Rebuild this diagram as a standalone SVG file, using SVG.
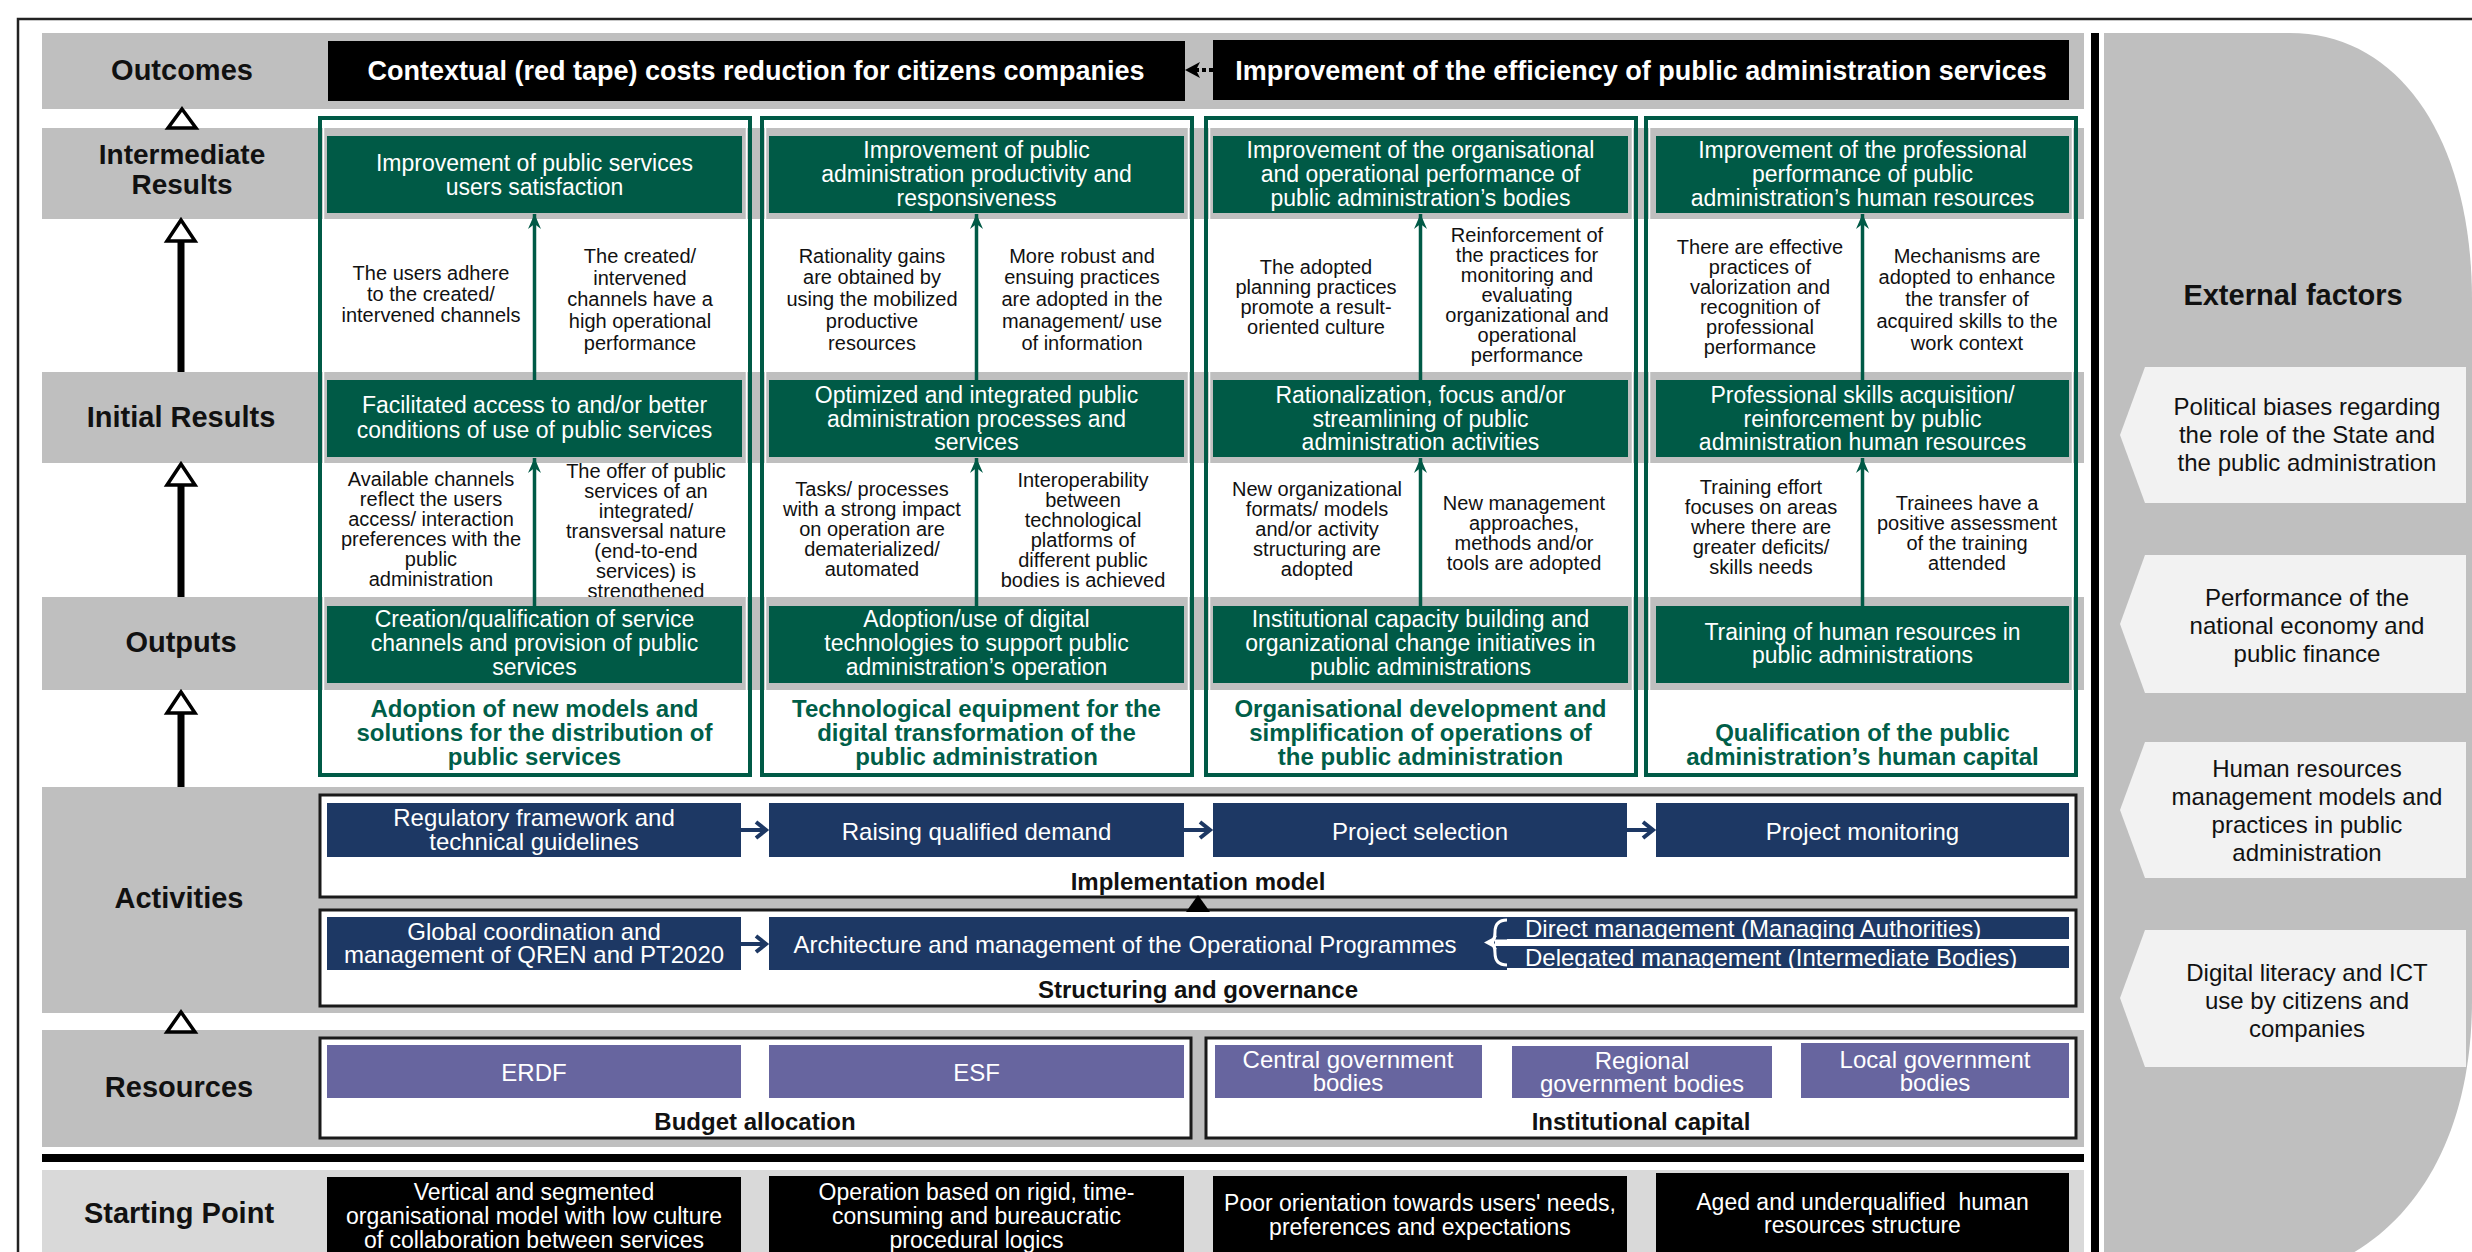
<svg xmlns="http://www.w3.org/2000/svg" width="2472" height="1252" viewBox="0 0 2472 1252">
  <style>
    text { font-family: 'Liberation Sans', Arial, sans-serif; text-anchor: middle; }
    .band { fill: #bfbfbf; }
    .band2 { fill: #d9d9d9; }
    .lbl { font-size: 29px; font-weight: bold; fill: #111; }
    .gbox { fill: #005a46; }
    .gt { font-size: 23px; fill: #fff; }
    .mt { font-size: 20px; fill: #111; }
    .tt { font-size: 24px; font-weight: bold; fill: #005e48; }
    .col { fill: none; stroke: #005a46; stroke-width: 4; }
    .colin { fill: none; stroke: #fff; stroke-width: 1.5; }
    .nbox { fill: #1d3864; }
    .nt { font-size: 24px; fill: #fff; }
    .pbox { fill: #67659f; }
    .frame { fill: #fff; stroke: #1a1a1a; stroke-width: 3; }
    .ft { font-size: 24px; font-weight: bold; fill: #111; }
    .bbox { fill: #000; }
    .ot { font-size: 27px; font-weight: bold; fill: #fff; }
    .st { font-size: 23px; fill: #fff; }
    .ext { fill: #f2f2f2; }
    .et { font-size: 24px; fill: #111; }
    .garrow { stroke: #005a46; stroke-width: 3.5; fill: none; marker-end: url(#gHead); }
    .narrow { stroke: #1d3864; stroke-width: 4; fill: none; }
    .axis { fill: #000; }
    .tri { fill: #fff; stroke: #000; stroke-width: 3.5; stroke-linejoin: miter; }
  </style>
  <defs>
    <marker id="gHead" viewBox="-16 -8 18 16" markerWidth="18" markerHeight="16" refX="0" refY="0" orient="auto" markerUnits="userSpaceOnUse">
      <path d="M0,0 L-15,-6.5 L-10,0 L-15,6.5 Z" fill="#005a46"/>
    </marker>
  </defs>

  <rect width="2472" height="1252" fill="#fff"/>

  <!-- outer frame -->
  <path d="M18,1252 V19 H2472" fill="none" stroke="#222" stroke-width="2.5"/>

  <!-- external factors panel -->
  <path d="M2104,33 H2290 C2400,33 2472,140 2472,300 V1000 C2472,1130 2420,1220 2340,1260 H2104 Z" fill="#bfbfbf"/>
  <rect x="2091" y="33" width="8" height="1219" fill="#000"/>

  <!-- assumption texts between result levels -->
  <g id="assumptions">
    <text class="mt"><tspan x="431" y="280">The users adhere</tspan><tspan x="431" y="301">to the created/</tspan><tspan x="431" y="322">intervened channels</tspan></text>
    <text class="mt"><tspan x="640" y="263">The created/</tspan><tspan x="640" y="285">intervened</tspan><tspan x="640" y="306">channels have a</tspan><tspan x="640" y="328">high operational</tspan><tspan x="640" y="350">performance</tspan></text>
    <text class="mt"><tspan x="872" y="263">Rationality gains</tspan><tspan x="872" y="284">are obtained by</tspan><tspan x="872" y="306">using the mobilized</tspan><tspan x="872" y="328">productive</tspan><tspan x="872" y="350">resources</tspan></text>
    <text class="mt"><tspan x="1082" y="263">More robust and</tspan><tspan x="1082" y="284">ensuing practices</tspan><tspan x="1082" y="306">are adopted in the</tspan><tspan x="1082" y="328">management/ use</tspan><tspan x="1082" y="350">of information</tspan></text>
    <text class="mt"><tspan x="1316" y="274">The adopted</tspan><tspan x="1316" y="294">planning practices</tspan><tspan x="1316" y="314">promote a result-</tspan><tspan x="1316" y="334">oriented culture</tspan></text>
    <text class="mt"><tspan x="1527" y="242">Reinforcement of</tspan><tspan x="1527" y="262">the practices for</tspan><tspan x="1527" y="282">monitoring and</tspan><tspan x="1527" y="302">evaluating</tspan><tspan x="1527" y="322">organizational and</tspan><tspan x="1527" y="342">operational</tspan><tspan x="1527" y="362">performance</tspan></text>
    <text class="mt"><tspan x="1760" y="254">There are effective</tspan><tspan x="1760" y="274">practices of</tspan><tspan x="1760" y="294">valorization and</tspan><tspan x="1760" y="314">recognition of</tspan><tspan x="1760" y="334">professional</tspan><tspan x="1760" y="354">performance</tspan></text>
    <text class="mt"><tspan x="1967" y="263">Mechanisms are</tspan><tspan x="1967" y="284">adopted to enhance</tspan><tspan x="1967" y="306">the transfer of</tspan><tspan x="1967" y="328">acquired skills to the</tspan><tspan x="1967" y="350">work context</tspan></text>

    <text class="mt"><tspan x="431" y="486">Available channels</tspan><tspan x="431" y="506">reflect the users</tspan><tspan x="431" y="526">access/ interaction</tspan><tspan x="431" y="546">preferences with the</tspan><tspan x="431" y="566">public</tspan><tspan x="431" y="586">administration</tspan></text>
    <text class="mt"><tspan x="646" y="478">The offer of public</tspan><tspan x="646" y="498">services of an</tspan><tspan x="646" y="518">integrated/</tspan><tspan x="646" y="538">transversal nature</tspan><tspan x="646" y="558">(end-to-end</tspan><tspan x="646" y="578">services) is</tspan><tspan x="646" y="598">strengthened</tspan></text>
    <text class="mt"><tspan x="872" y="496">Tasks/ processes</tspan><tspan x="872" y="516">with a strong impact</tspan><tspan x="872" y="536">on operation are</tspan><tspan x="872" y="556">dematerialized/</tspan><tspan x="872" y="576">automated</tspan></text>
    <text class="mt"><tspan x="1083" y="487">Interoperability</tspan><tspan x="1083" y="507">between</tspan><tspan x="1083" y="527">technological</tspan><tspan x="1083" y="547">platforms of</tspan><tspan x="1083" y="567">different public</tspan><tspan x="1083" y="587">bodies is achieved</tspan></text>
    <text class="mt"><tspan x="1317" y="496">New organizational</tspan><tspan x="1317" y="516">formats/ models</tspan><tspan x="1317" y="536">and/or activity</tspan><tspan x="1317" y="556">structuring are</tspan><tspan x="1317" y="576">adopted</tspan></text>
    <text class="mt"><tspan x="1524" y="510">New management</tspan><tspan x="1524" y="530">approaches,</tspan><tspan x="1524" y="550">methods and/or</tspan><tspan x="1524" y="570">tools are adopted</tspan></text>
    <text class="mt"><tspan x="1761" y="494">Training effort</tspan><tspan x="1761" y="514">focuses on areas</tspan><tspan x="1761" y="534">where there are</tspan><tspan x="1761" y="554">greater deficits/</tspan><tspan x="1761" y="574">skills needs</tspan></text>
    <text class="mt"><tspan x="1967" y="510">Trainees have a</tspan><tspan x="1967" y="530">positive assessment</tspan><tspan x="1967" y="550">of the training</tspan><tspan x="1967" y="570">attended</tspan></text>
  </g>

  <!-- level bands -->
  <g id="bands">
    <rect class="band" x="42" y="33" width="2042" height="76"/>
    <rect class="band" x="42" y="128" width="2042" height="91"/>
    <rect class="band" x="42" y="372" width="2042" height="91"/>
    <rect class="band" x="42" y="597" width="2042" height="93"/>
    <rect class="band" x="42" y="787" width="2042" height="226"/>
    <rect class="band" x="42" y="1030" width="2042" height="117"/>
    <rect x="42" y="1154" width="2042" height="8" fill="#000"/>
    <rect class="band2" x="42" y="1170" width="2042" height="90"/>
  </g>

  <!-- level labels -->
  <g id="levels">
    <text class="lbl" x="182" y="80">Outcomes</text>
    <text class="lbl" style="font-size:28px"><tspan x="182" y="164">Intermediate</tspan><tspan x="182" y="194">Results</tspan></text>
    <text class="lbl" x="181" y="427">Initial Results</text>
    <text class="lbl" x="181" y="652">Outputs</text>
    <text class="lbl" x="179" y="908">Activities</text>
    <text class="lbl" x="179" y="1097">Resources</text>
    <text class="lbl" x="179" y="1223">Starting Point</text>
  </g>

  <!-- outcomes -->
  <g id="outcome-red-tape">
    <rect class="bbox" x="328" y="41" width="857" height="60"/>
    <text class="ot" x="756" y="80">Contextual (red tape) costs reduction for citizens companies</text>
  </g>
  <g id="outcome-efficiency">
    <rect class="bbox" x="1213" y="40" width="856" height="60"/>
    <text class="ot" x="1641" y="80">Improvement of the efficiency of public administration services</text>
  </g>

  <!-- column 1: distribution of public services -->
  <g id="col-services">
    <rect class="col" x="320" y="118" width="430" height="657"/>
    <rect class="colin" x="323.5" y="121.5" width="423" height="650"/>
    <rect class="gbox" x="327" y="136" width="415" height="77"/>
    <text class="gt"><tspan x="534.5" y="171">Improvement of public services</tspan><tspan x="534.5" y="195">users satisfaction</tspan></text>
    <rect class="gbox" x="327" y="380" width="415" height="77"/>
    <text class="gt"><tspan x="534.5" y="413">Facilitated access to and/or better</tspan><tspan x="534.5" y="438">conditions of use of public services</tspan></text>
    <rect class="gbox" x="327" y="606" width="415" height="77"/>
    <text class="gt"><tspan x="534.5" y="627">Creation/qualification of service</tspan><tspan x="534.5" y="651">channels and provision of public</tspan><tspan x="534.5" y="675">services</tspan></text>
    <text class="tt"><tspan x="534.5" y="717">Adoption of new models and</tspan><tspan x="534.5" y="741">solutions for the distribution of</tspan><tspan x="534.5" y="765">public services</tspan></text>
  </g>

  <!-- column 2: digital transformation -->
  <g id="col-digital">
    <rect class="col" x="762" y="118" width="430" height="657"/>
    <rect class="colin" x="765.5" y="121.5" width="423" height="650"/>
    <rect class="gbox" x="769" y="136" width="415" height="77"/>
    <text class="gt"><tspan x="976.5" y="158">Improvement of public</tspan><tspan x="976.5" y="182">administration productivity and</tspan><tspan x="976.5" y="206">responsiveness</tspan></text>
    <rect class="gbox" x="769" y="380" width="415" height="77"/>
    <text class="gt"><tspan x="976.5" y="403">Optimized and integrated public</tspan><tspan x="976.5" y="427">administration processes and</tspan><tspan x="976.5" y="450">services</tspan></text>
    <rect class="gbox" x="769" y="606" width="415" height="77"/>
    <text class="gt"><tspan x="976.5" y="627">Adoption/use of digital</tspan><tspan x="976.5" y="651">technologies to support public</tspan><tspan x="976.5" y="675">administration’s operation</tspan></text>
    <text class="tt"><tspan x="976.5" y="717">Technological equipment for the</tspan><tspan x="976.5" y="741">digital transformation of the</tspan><tspan x="976.5" y="765">public administration</tspan></text>
  </g>

  <!-- column 3: organisational development -->
  <g id="col-organisation">
    <rect class="col" x="1206" y="118" width="430" height="657"/>
    <rect class="colin" x="1209.5" y="121.5" width="423" height="650"/>
    <rect class="gbox" x="1213" y="136" width="415" height="77"/>
    <text class="gt"><tspan x="1420.5" y="158">Improvement of the organisational</tspan><tspan x="1420.5" y="182">and operational performance of</tspan><tspan x="1420.5" y="206">public administration’s bodies</tspan></text>
    <rect class="gbox" x="1213" y="380" width="415" height="77"/>
    <text class="gt"><tspan x="1420.5" y="403">Rationalization, focus and/or</tspan><tspan x="1420.5" y="427">streamlining of public</tspan><tspan x="1420.5" y="450">administration activities</tspan></text>
    <rect class="gbox" x="1213" y="606" width="415" height="77"/>
    <text class="gt"><tspan x="1420.5" y="627">Institutional capacity building and</tspan><tspan x="1420.5" y="651">organizational change initiatives in</tspan><tspan x="1420.5" y="675">public administrations</tspan></text>
    <text class="tt"><tspan x="1420.5" y="717">Organisational development and</tspan><tspan x="1420.5" y="741">simplification of operations of</tspan><tspan x="1420.5" y="765">the public administration</tspan></text>
  </g>

  <!-- column 4: human capital -->
  <g id="col-human-capital">
    <rect class="col" x="1646" y="118" width="430" height="657"/>
    <rect class="colin" x="1649.5" y="121.5" width="423" height="650"/>
    <rect class="gbox" x="1656" y="136" width="413" height="77"/>
    <text class="gt"><tspan x="1862.5" y="158">Improvement of the professional</tspan><tspan x="1862.5" y="182">performance of public</tspan><tspan x="1862.5" y="206">administration’s human resources</tspan></text>
    <rect class="gbox" x="1656" y="380" width="413" height="77"/>
    <text class="gt"><tspan x="1862.5" y="403">Professional skills acquisition/</tspan><tspan x="1862.5" y="427">reinforcement by public</tspan><tspan x="1862.5" y="450">administration human resources</tspan></text>
    <rect class="gbox" x="1656" y="606" width="413" height="77"/>
    <text class="gt"><tspan x="1862.5" y="640">Training of human resources in</tspan><tspan x="1862.5" y="663">public administrations</tspan></text>
    <text class="tt"><tspan x="1862.5" y="741">Qualification of the public</tspan><tspan x="1862.5" y="765">administration’s human capital</tspan></text>
  </g>

  <!-- activities: implementation model -->
  <g id="implementation-model">
    <rect class="frame" x="320" y="795" width="1756" height="102"/>
    <text class="ft" x="1198" y="890">Implementation model</text>
  </g>
  <g id="act-regulatory">
    <rect class="nbox" x="327" y="803" width="414" height="54"/>
    <text class="nt"><tspan x="534" y="826">Regulatory framework and</tspan><tspan x="534" y="850">technical guidelines</tspan></text>
  </g>
  <g id="act-demand">
    <rect class="nbox" x="769" y="803" width="415" height="54"/>
    <text class="nt" x="976.5" y="840">Raising qualified demand</text>
  </g>
  <g id="act-selection">
    <rect class="nbox" x="1213" y="803" width="414" height="54"/>
    <text class="nt" x="1420" y="840">Project selection</text>
  </g>
  <g id="act-monitoring">
    <rect class="nbox" x="1656" y="803" width="413" height="54"/>
    <text class="nt" x="1862.5" y="840">Project monitoring</text>
  </g>

  <!-- activities: structuring and governance -->
  <g id="structuring-governance">
    <rect class="frame" x="320" y="910" width="1756" height="96"/>
    <text class="ft" x="1198" y="998">Structuring and governance</text>
  </g>
  <g id="act-coordination">
    <rect class="nbox" x="327" y="917" width="414" height="53"/>
    <text class="nt"><tspan x="534" y="940">Global coordination and</tspan><tspan x="534" y="963">management of QREN and PT2020</tspan></text>
  </g>
  <g id="act-architecture">
    <rect class="nbox" x="769" y="917" width="738" height="53"/>
    <text class="nt" x="1125" y="953">Architecture and management of the Operational Programmes</text>
  </g>
  <g id="act-direct">
    <rect class="nbox" x="1505" y="917" width="564" height="22"/>
    <text class="nt" x="1525" y="937" style="text-anchor:start">Direct management (Managing Authorities)</text>
  </g>
  <g id="act-delegated">
    <rect class="nbox" x="1505" y="946" width="564" height="22"/>
    <text class="nt" x="1525" y="966" style="text-anchor:start">Delegated management (Intermediate Bodies)</text>
  </g>

  <!-- resources -->
  <g id="budget-allocation">
    <rect class="frame" x="320" y="1038" width="871" height="100"/>
    <text class="ft" x="755" y="1130">Budget allocation</text>
  </g>
  <g id="res-erdf">
    <rect class="pbox" x="327" y="1045" width="414" height="53"/>
    <text class="nt" x="534" y="1081">ERDF</text>
  </g>
  <g id="res-esf">
    <rect class="pbox" x="769" y="1045" width="415" height="53"/>
    <text class="nt" x="976.5" y="1081">ESF</text>
  </g>
  <g id="institutional-capital">
    <rect class="frame" x="1206" y="1038" width="870" height="100"/>
    <text class="ft" x="1641" y="1130">Institutional capital</text>
  </g>
  <g id="res-central">
    <rect class="pbox" x="1215" y="1045" width="267" height="53"/>
    <text class="nt"><tspan x="1348" y="1068">Central government</tspan><tspan x="1348" y="1091">bodies</tspan></text>
  </g>
  <g id="res-regional">
    <rect class="pbox" x="1512" y="1046" width="260" height="52"/>
    <text class="nt"><tspan x="1642" y="1069">Regional</tspan><tspan x="1642" y="1092">government bodies</tspan></text>
  </g>
  <g id="res-local">
    <rect class="pbox" x="1801" y="1043" width="268" height="55"/>
    <text class="nt"><tspan x="1935" y="1068">Local government</tspan><tspan x="1935" y="1091">bodies</tspan></text>
  </g>

  <!-- starting point -->
  <g id="start-model">
    <rect class="bbox" x="327" y="1177" width="414" height="80"/>
    <text class="st"><tspan x="534" y="1200">Vertical and segmented</tspan><tspan x="534" y="1224">organisational model with low culture</tspan><tspan x="534" y="1248">of collaboration between services</tspan></text>
  </g>
  <g id="start-procedures">
    <rect class="bbox" x="769" y="1176" width="415" height="80"/>
    <text class="st"><tspan x="976.5" y="1200">Operation based on rigid, time-</tspan><tspan x="976.5" y="1224">consuming and bureaucratic</tspan><tspan x="976.5" y="1248">procedural logics</tspan></text>
  </g>
  <g id="start-users">
    <rect class="bbox" x="1213" y="1176" width="414" height="80"/>
    <text class="st"><tspan x="1420" y="1211">Poor orientation towards users' needs,</tspan><tspan x="1420" y="1235">preferences and expectations</tspan></text>
  </g>
  <g id="start-hr">
    <rect class="bbox" x="1656" y="1173" width="413" height="84"/>
    <text class="st"><tspan x="1862.5" y="1210" xml:space="preserve">Aged and underqualified  human</tspan><tspan x="1862.5" y="1233">resources structure</tspan></text>
  </g>

  <!-- external factors -->
  <g id="external-factors">
    <text class="lbl" x="2293" y="305">External factors</text>
  </g>
  <g id="ext-political">
    <path class="ext" d="M2145,367 H2466 V503 H2145 L2120,435 Z"/>
    <text class="et"><tspan x="2307" y="415">Political biases regarding</tspan><tspan x="2307" y="443">the role of the State and</tspan><tspan x="2307" y="471">the public administration</tspan></text>
  </g>
  <g id="ext-economy">
    <path class="ext" d="M2145,555 H2466 V693 H2145 L2120,624 Z"/>
    <text class="et"><tspan x="2307" y="606">Performance of the</tspan><tspan x="2307" y="634">national economy and</tspan><tspan x="2307" y="662">public finance</tspan></text>
  </g>
  <g id="ext-hr-models">
    <path class="ext" d="M2145,742 H2466 V878 H2145 L2120,810 Z"/>
    <text class="et"><tspan x="2307" y="777">Human resources</tspan><tspan x="2307" y="805">management models and</tspan><tspan x="2307" y="833">practices in public</tspan><tspan x="2307" y="861">administration</tspan></text>
  </g>
  <g id="ext-digital">
    <path class="ext" d="M2145,930 H2466 V1067 H2145 L2120,998 Z"/>
    <text class="et"><tspan x="2307" y="981">Digital literacy and ICT</tspan><tspan x="2307" y="1009">use by citizens and</tspan><tspan x="2307" y="1037">companies</tspan></text>
  </g>

  <!-- connectors -->
  <g id="connectors">
    <!-- main results chain on the left -->
    <polygon class="tri" points="182,109 196,128 168,128"/>
    <rect class="axis" x="177.5" y="241" width="7" height="131"/>
    <polygon class="tri" points="181,220 195,241 167,241"/>
    <rect class="axis" x="177.5" y="485" width="7" height="112"/>
    <polygon class="tri" points="181,464 195,485 167,485"/>
    <rect class="axis" x="177.5" y="713" width="7" height="74"/>
    <polygon class="tri" points="181,692 195,713 167,713"/>
    <polygon class="tri" points="181,1012 195,1032 167,1032"/>

    <!-- outcome link -->
    <line x1="1213" y1="70" x2="1196" y2="70" stroke="#000" stroke-width="4" stroke-dasharray="4 3"/>
    <path d="M1185,70 L1200,62 L1196,70 L1200,78 Z" fill="#000"/>

    <!-- result chains inside columns -->
    <line class="garrow" x1="534.5" y1="380" x2="534.5" y2="214"/>
    <line class="garrow" x1="534.5" y1="606" x2="534.5" y2="458"/>
    <line class="garrow" x1="976.5" y1="380" x2="976.5" y2="214"/>
    <line class="garrow" x1="976.5" y1="606" x2="976.5" y2="458"/>
    <line class="garrow" x1="1420.5" y1="380" x2="1420.5" y2="214"/>
    <line class="garrow" x1="1420.5" y1="606" x2="1420.5" y2="458"/>
    <line class="garrow" x1="1862.5" y1="380" x2="1862.5" y2="214"/>
    <line class="garrow" x1="1862.5" y1="606" x2="1862.5" y2="458"/>

    <!-- implementation sequence -->
    <path class="narrow" d="M741,830 H766 M756,822 L766,830 L756,838"/>
    <path class="narrow" d="M1184,830 H1210 M1200,822 L1210,830 L1200,838"/>
    <path class="narrow" d="M1627,830 H1653 M1643,822 L1653,830 L1643,838"/>
    <path class="narrow" d="M741,944 H766 M756,936 L766,944 L756,952"/>

    <!-- governance feeds implementation -->
    <polygon points="1198,895 1210,912 1186,912" fill="#000"/>

    <!-- management modes feed the operational programmes -->
    <path d="M1507,920 Q1495,920 1495,932 Q1495,942.5 1488,942.5 Q1495,942.5 1495,953 Q1495,965 1507,965" fill="none" stroke="#fff" stroke-width="3"/>
    <rect x="1495" y="939.5" width="12" height="6.5" fill="#fff"/>
    <path d="M1484,942.5 L1497,935.5 L1494,942.5 L1497,949.5 Z" fill="#fff"/>
  </g>
</svg>
